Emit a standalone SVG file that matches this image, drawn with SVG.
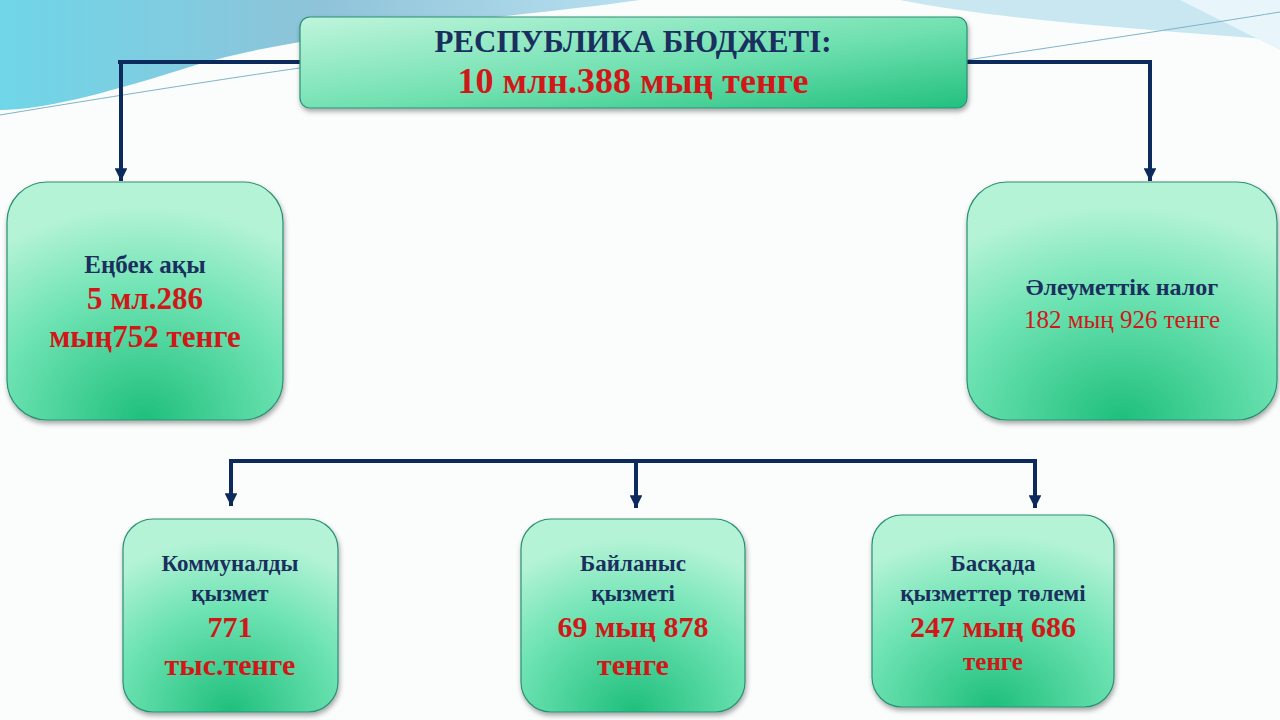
<svg xmlns="http://www.w3.org/2000/svg" width="1280" height="720" viewBox="0 0 1280 720">
<defs>
<linearGradient id="sky" x1="0" y1="0" x2="1" y2="0"><stop offset="0" stop-color="#6fd6e8"/><stop offset="0.5" stop-color="#8fc3d9"/><stop offset="1" stop-color="#b8e0ef"/></linearGradient>
<linearGradient id="g" x1="0" y1="0" x2="1" y2="1"><stop offset="0" stop-color="#bff5dc"/><stop offset="0.55" stop-color="#6fe0b0"/><stop offset="1" stop-color="#22c07e"/></linearGradient>
<radialGradient id="rg" cx="0.5" cy="1" r="0.9"><stop offset="0" stop-color="#1fbf7c"/><stop offset="0.6" stop-color="#6ee3b3"/><stop offset="1" stop-color="#b4f3d6"/></radialGradient>
<filter id="sh" x="-10%" y="-10%" width="120%" height="125%"><feDropShadow dx="1" dy="3" stdDeviation="2.5" flood-color="#000" flood-opacity="0.35"/></filter>
<marker id="ar" viewBox="0 0 10 10" refX="10" refY="5" markerWidth="3.2" markerHeight="3.2" orient="auto" markerUnits="strokeWidth"><path d="M0,0 L10,5 L0,10 Z" fill="#0d2a5c"/></marker>
</defs>
<style>
.box{stroke:#2a8f74;stroke-width:1.2;filter:url(#sh)}
.t{font-family:"Liberation Serif",serif;font-weight:bold;text-anchor:middle}
.b{fill:#1a2f5e}.r{fill:#d01818}
.c{fill:none;stroke:#0d2a5c;stroke-width:4}
</style>
<rect width="1280" height="720" fill="#fbfcfc"/>
<path d="M0,0 H640 C500,20 300,30 180,70 C100,95 40,110 0,110 Z" fill="url(#sky)"/>
<path d="M640,0 H1280 V40 C1150,30 1000,20 900,0 Z" fill="#a7d8ea" opacity="0.6"/>
<path d="M1180,0 H1280 V50 C1240,30 1210,15 1180,0 Z" fill="#e8f6fb"/>
<path d="M0,115 C120,95 250,75 300,68" fill="none" stroke="#7fb4c8" stroke-width="1"/>
<path d="M967,60 C1100,40 1200,25 1280,12" fill="none" stroke="#7fb4c8" stroke-width="1"/>
<g id="connectors">
<path class="c" d="M300,62 H118 M121,62 V181" marker-end="url(#ar)"/>
<path class="c" d="M967,62 H1152 M1150,62 V181" marker-end="url(#ar)"/>
<path class="c" d="M229,461 H1037"/>
<path class="c" d="M231,461 V506" marker-end="url(#ar)"/>
<path class="c" d="M636,461 V508" marker-end="url(#ar)"/>
<path class="c" d="M1035,461 V508" marker-end="url(#ar)"/>
</g>
<g id="top"><rect class="box" x="300" y="17" width="667" height="91" rx="10" fill="url(#g)"/>
<text class="t b" x="633" y="52" font-size="31">РЕСПУБЛИКА БЮДЖЕТІ:</text>
<text class="t r" x="633" y="93" font-size="36">10 млн.388 мың  тенге</text></g>
<g id="left"><rect class="box" x="7" y="182" width="276" height="238" rx="40" fill="url(#rg)"/>
<text class="t b" x="145" y="273" font-size="25">Еңбек ақы</text>
<text class="t r" x="145" y="309" font-size="31">5 мл.286</text>
<text class="t r" x="145" y="347" font-size="31">мың752 тенге</text></g>
<g id="right"><rect class="box" x="967" y="182" width="310" height="238" rx="40" fill="url(#rg)"/>
<text class="t b" x="1122" y="295" font-size="24">Әлеуметтік налог</text>
<text x="1122" y="328" font-size="25" text-anchor="middle" font-family="Liberation Serif,serif" fill="#d01818">182 мың 926 тенге</text></g>
<g id="n1"><rect class="box" x="123" y="519" width="215" height="193" rx="30" fill="url(#rg)"/>
<text class="t b" x="230" y="571" font-size="23">Коммуналды</text>
<text class="t b" x="230" y="601" font-size="23">қызмет</text>
<text class="t r" x="230" y="637" font-size="30">771</text>
<text class="t r" x="230" y="675" font-size="30">тыс.тенге</text></g>
<g id="n2"><rect class="box" x="521" y="519" width="224" height="193" rx="30" fill="url(#rg)"/>
<text class="t b" x="633" y="571" font-size="23">Байланыс</text>
<text class="t b" x="633" y="601" font-size="23">қызметі</text>
<text class="t r" x="633" y="637" font-size="30">69 мың 878</text>
<text class="t r" x="633" y="675" font-size="30">тенге</text></g>
<g id="n3"><rect class="box" x="872" y="515" width="242" height="192" rx="30" fill="url(#rg)"/>
<text class="t b" x="993" y="571" font-size="23">Басқада</text>
<text class="t b" x="993" y="601" font-size="23">қызметтер төлемі</text>
<text class="t r" x="993" y="637" font-size="30">247 мың 686</text>
<text class="t r" x="993" y="670" font-size="25">тенге</text></g>
</svg>
